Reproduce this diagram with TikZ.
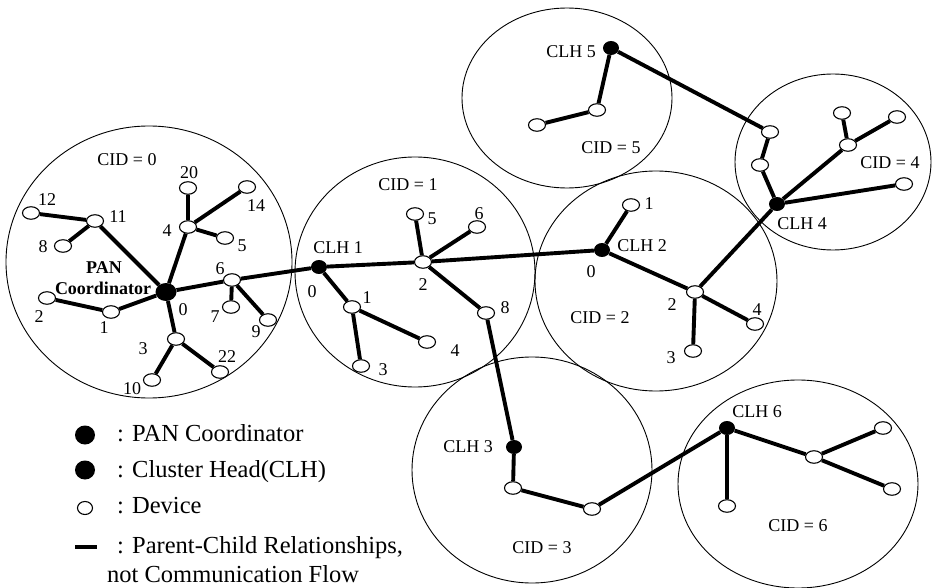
\documentclass[tikz,border=0pt]{standalone}
\usepackage{fontspec}
\setmainfont{Liberation Serif}
\usetikzlibrary{shapes.geometric}
\pgfdeclarelayer{back}
\pgfdeclarelayer{zones}
\pgfsetlayers{zones,back,main}
\tikzset{
  zone/.style={ellipse, draw, line width=0.9pt, inner sep=0pt},
  dev/.style={ellipse, draw, fill=white, line width=1.1pt, minimum width=17pt, minimum height=12.5pt, inner sep=0pt},
  clh/.style={ellipse, fill=black, minimum width=16pt, minimum height=14pt, inner sep=0pt},
  pan/.style={ellipse, fill=black, minimum width=21pt, minimum height=18pt, inner sep=0pt},
  link/.style={line width=3.9pt},
  lbl/.style={font=\fontsize{18}{20}\selectfont, inner sep=0pt},
  blbl/.style={font=\fontsize{18}{20}\selectfont\bfseries, inner sep=0pt},
  legtext/.style={font=\fontsize{24.5}{27}\selectfont, anchor=base west, inner sep=0pt}
}
\begin{document}
\begin{tikzpicture}[x=1pt,y=-1pt]
\useasboundingbox (0,0) rectangle (932,588);

% cluster zones
\begin{pgfonlayer}{zones}
\node[zone, minimum width=286pt, minimum height=272pt] (z0) at (149,262) {};
\node[zone, minimum width=240pt, minimum height=230pt] (z1) at (415,272) {};
\node[zone, minimum width=242pt, minimum height=220pt] (z2) at (656,281) {};
\node[zone, minimum width=210pt, minimum height=180pt] (z5) at (567,98) {};
\node[zone, minimum width=196pt, minimum height=176pt] (z4) at (833,162) {};
\node[zone, minimum width=240pt, minimum height=226pt] (z3) at (532,470) {};
\node[zone, minimum width=240pt, minimum height=208pt] (z6) at (798,484) {};
\end{pgfonlayer}

% cluster 0 (PAN coordinator)
\node[pan] (pan) at (166,292) {};
\node[dev] (a11) at (95,221) {};
\node[dev] (a12) at (31,213) {};
\node[dev] (a8) at (63,246) {};
\node[dev] (a4) at (188,227) {};
\node[dev] (a20) at (188,188) {};
\node[dev] (a14) at (247,187) {};
\node[dev] (a5) at (225,238) {};
\node[dev] (a6) at (232,280) {};
\node[dev] (a7) at (231,307) {};
\node[dev] (a9) at (268,320) {};
\node[dev] (a1) at (111,312) {};
\node[dev] (a2) at (47,298) {};
\node[dev] (a3) at (176,339) {};
\node[dev] (a10) at (152,380) {};
\node[dev] (a22) at (220,372) {};

% cluster 1
\node[clh] (h1) at (319,267) {};
\node[dev] (b2) at (423,262) {};
\node[dev] (b5) at (415,214) {};
\node[dev] (b6) at (477,227) {};
\node[dev] (b8) at (486,313) {};
\node[dev] (b1) at (352,307) {};
\node[dev] (b3) at (361,366) {};
\node[dev] (b4) at (427,342) {};

% cluster 2
\node[clh] (h2) at (602,250) {};
\node[dev] (c1) at (631,205) {};
\node[dev] (c2) at (695,292) {};
\node[dev] (c3) at (693,351) {};
\node[dev] (c4) at (755,324) {};

% cluster 5
\node[clh] (h5) at (611,48) {};
\node[dev] (e1) at (597,110) {};
\node[dev] (e2) at (537,125) {};

% cluster 4
\node[dev] (d1) at (770,132) {};
\node[dev] (d2) at (760,165) {};
\node[clh] (h4) at (777,204) {};
\node[dev] (d3) at (848,145) {};
\node[dev] (d4) at (842,113) {};
\node[dev] (d5) at (897,117) {};
\node[dev] (d6) at (904,184) {};

% cluster 3
\node[clh] (h3) at (514,447) {};
\node[dev] (f1) at (513,488) {};
\node[dev] (f2) at (592,509) {};

% cluster 6
\node[clh] (h6) at (727,428) {};
\node[dev] (g1) at (727,506) {};
\node[dev] (g2) at (814,457) {};
\node[dev] (g3) at (883,428) {};
\node[dev] (g4) at (892,489) {};

% parent-child links
\begin{pgfonlayer}{back}
\draw[link] (pan) -- (a11) (a11) -- (a12) (a11) -- (a8)
  (pan) -- (a4) (a4) -- (a20) (a4) -- (a14) (a4) -- (a5)
  (pan) -- (a6) (a6) -- (a7) (a6) -- (a9)
  (pan) -- (a1) (a1) -- (a2)
  (pan) -- (a3) (a3) -- (a10) (a3) -- (a22)
  (a6) -- (h1);
\draw[link] (h1) -- (b2) (b2) -- (b5) (b2) -- (b6) (b2) -- (b8)
  (h1) -- (b1) (b1) -- (b3) (b1) -- (b4)
  (b2) -- (h2) (b8) -- (h3);
\draw[link] (h2) -- (c1) (h2) -- (c2) (c2) -- (c3) (c2) -- (c4) (c2) -- (h4);
\draw[link] (h5) -- (e1) (e1) -- (e2) (h5) -- (d1) (d1) -- (d2) (d2) -- (h4)
  (h4) -- (d3) (d3) -- (d4) (d3) -- (d5) (h4) -- (d6);
\draw[link] (h3) -- (f1) (f1) -- (f2) (f2) -- (h6);
\draw[link] (h6) -- (g1) (h6) -- (g2) (g2) -- (g3) (g2) -- (g4);
\end{pgfonlayer}

% labels, cluster 0
\node[lbl] (tcid0) at (127,160) {CID = 0};
\node[blbl] (tpan1) at (104,268) {PAN};
\node[blbl] (tpan2) at (103,288) {Coordinator};
\node[lbl] (t12) at (47,200) {12};
\node[lbl] (t11) at (118,217) {11};
\node[lbl] (t8) at (43,247) {8};
\node[lbl] (t20) at (189,173) {20};
\node[lbl] (t14) at (256,206) {14};
\node[lbl] (t4) at (167,231) {4};
\node[lbl] (t5) at (242,246) {5};
\node[lbl] (t6) at (220,269) {6};
\node[lbl] (t0) at (183,310) {0};
\node[lbl] (t7) at (215,317) {7};
\node[lbl] (t9) at (256,332) {9};
\node[lbl] (t1) at (104,328) {1};
\node[lbl] (t2) at (39,317) {2};
\node[lbl] (t3) at (143,349) {3};
\node[lbl] (t22) at (227,357) {22};
\node[lbl] (t10) at (132,389) {10};

% labels, cluster 1
\node[lbl] (tcid1) at (408,185) {CID = 1};
\node[lbl] (tclh1) at (338,248) {CLH 1};
\node[lbl] (u0) at (312,292) {0};
\node[lbl] (u1) at (367,298) {1};
\node[lbl] (u2) at (423,285) {2};
\node[lbl] (u5) at (432,219) {5};
\node[lbl] (u6) at (479,214) {6};
\node[lbl] (u8) at (505,308) {8};
\node[lbl] (u3) at (383,370) {3};
\node[lbl] (u4) at (455,351) {4};

% labels, cluster 2
\node[lbl] (tcid2) at (600,318) {CID = 2};
\node[lbl] (tclh2) at (642,246) {CLH 2};
\node[lbl] (v1) at (649,204) {1};
\node[lbl] (v0) at (591,272) {0};
\node[lbl] (v2) at (672,305) {2};
\node[lbl] (v3) at (671,358) {3};
\node[lbl] (v4) at (757,310) {4};

% labels, clusters 3 to 6
\node[lbl] (tclh5) at (571,52) {CLH 5};
\node[lbl] (tcid5) at (611,148) {CID = 5};
\node[lbl] (tclh4) at (802,224) {CLH 4};
\node[lbl] (tcid4) at (890,163) {CID = 4};
\node[lbl] (tclh3) at (468,447) {CLH 3};
\node[lbl] (tcid3) at (542,548) {CID = 3};
\node[lbl] (tclh6) at (757,412) {CLH 6};
\node[lbl] (tcid6) at (798,526) {CID = 6};

% legend
\node[pan, minimum width=20pt, minimum height=19pt] (kpan) at (85,435) {};
\node[clh, minimum width=20pt, minimum height=19pt] (kclh) at (85,470) {};
\node[dev, minimum width=15pt, minimum height=13pt] (kdev) at (85,508) {};
\coordinate (kl1) at (75,547);
\coordinate (kl2) at (97,547);
\draw[link] (kl1) -- (kl2);
\node[legtext] (lpan) at (117,441) {: PAN Coordinator};
\node[legtext] (lclh) at (117,477) {: Cluster Head(CLH)};
\node[legtext] (ldev) at (117,513) {: Device};
\node[legtext] (llnk) at (117,553) {: Parent-Child Relationships,};
\node[legtext] (llnk2) at (107,582) {not Communication Flow};
\end{tikzpicture}
\end{document}
